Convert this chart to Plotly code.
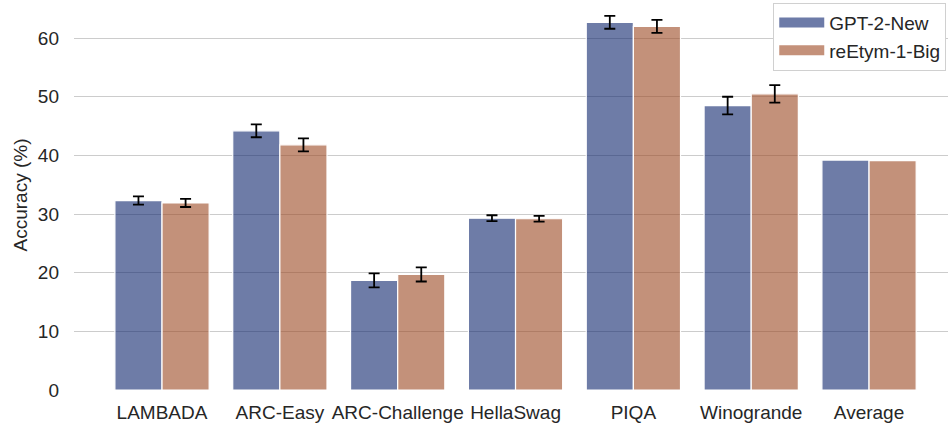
import plotly.graph_objects as go

# Benchmark accuracy (%) for the two models, with standard-error bars
tasks = ["LAMBADA", "ARC-Easy", "ARC-Challenge", "HellaSwag", "PIQA", "Winogrande"]
gpt2_new = [32.3, 44.2, 18.7, 29.3, 62.7, 48.5]
gpt2_err = [0.7, 1.1, 1.2, 0.5, 1.1, 1.5]
reetym = [31.9, 41.8, 19.7, 29.2, 62.0, 50.5]
reetym_err = [0.7, 1.1, 1.2, 0.5, 1.1, 1.5]

# The average column is drawn without error bars
avg_label = "Average"
gpt2_avg = 39.2
reetym_avg = 39.1

categories = tasks + [avg_label]

series = [
    ("GPT-2-New", gpt2_new, gpt2_err, gpt2_avg, "rgba(14,36,108,0.6)", "#6d7ba8"),
    ("reEtym-1-Big", reetym, reetym_err, reetym_avg, "rgba(155,72,34,0.6)", "#c4917a"),
]

fig = go.Figure()
for i, (name, vals, errs, avg, color, solid) in enumerate(series):
    bar_style = dict(color=color, line=dict(color="white", width=1.2))
    fig.add_trace(go.Bar(
        x=tasks, y=vals, name=name, showlegend=False, offsetgroup=f"g{i}",
        marker=bar_style,
        error_y=dict(type="data", array=errs, visible=True,
                     color="black", thickness=1.8, width=5.5),
    ))
    fig.add_trace(go.Bar(
        x=[avg_label], y=[avg], name=name, showlegend=False, offsetgroup=f"g{i}",
        marker=bar_style,
    ))
    # wide patch used as the legend key
    fig.add_trace(go.Scatter(
        x=[None], y=[None], mode="lines", name=name, legendgroup=f"l{i}",
        line=dict(color=solid, width=13),
    ))

n = len(categories)
fig.update_layout(
    width=948, height=424,
    margin=dict(l=74, r=0, t=0, b=34),
    paper_bgcolor="white", plot_bgcolor="white",
    barmode="group", bargap=0.2, bargroupgap=0.0,
    font=dict(family="Liberation Sans, Arial, sans-serif", size=19, color="#262626"),
    xaxis=dict(
        type="category", categoryorder="array", categoryarray=categories,
        range=[-0.747, n - 0.33], showgrid=False, zeroline=False,
        showline=False, ticks="", ticklabelstandoff=9, tickfont=dict(size=19),
    ),
    yaxis=dict(
        range=[0, 66.5], tickvals=[0, 10, 20, 30, 40, 50, 60],
        showgrid=True, gridcolor="#cccccc", gridwidth=1.3,
        zeroline=False, showline=False, ticks="", ticklabelstandoff=14,
        title=dict(text="Accuracy (%)", font=dict(size=19), standoff=5),
        tickfont=dict(size=19),
    ),
    legend=dict(
        x=0.998, y=0.993, xanchor="right", yanchor="top",
        bgcolor="white", bordercolor="#d0d0d0", borderwidth=1,
        font=dict(size=19), tracegroupgap=0, itemwidth=45,
    ),
)

fig.write_html("out.html")
